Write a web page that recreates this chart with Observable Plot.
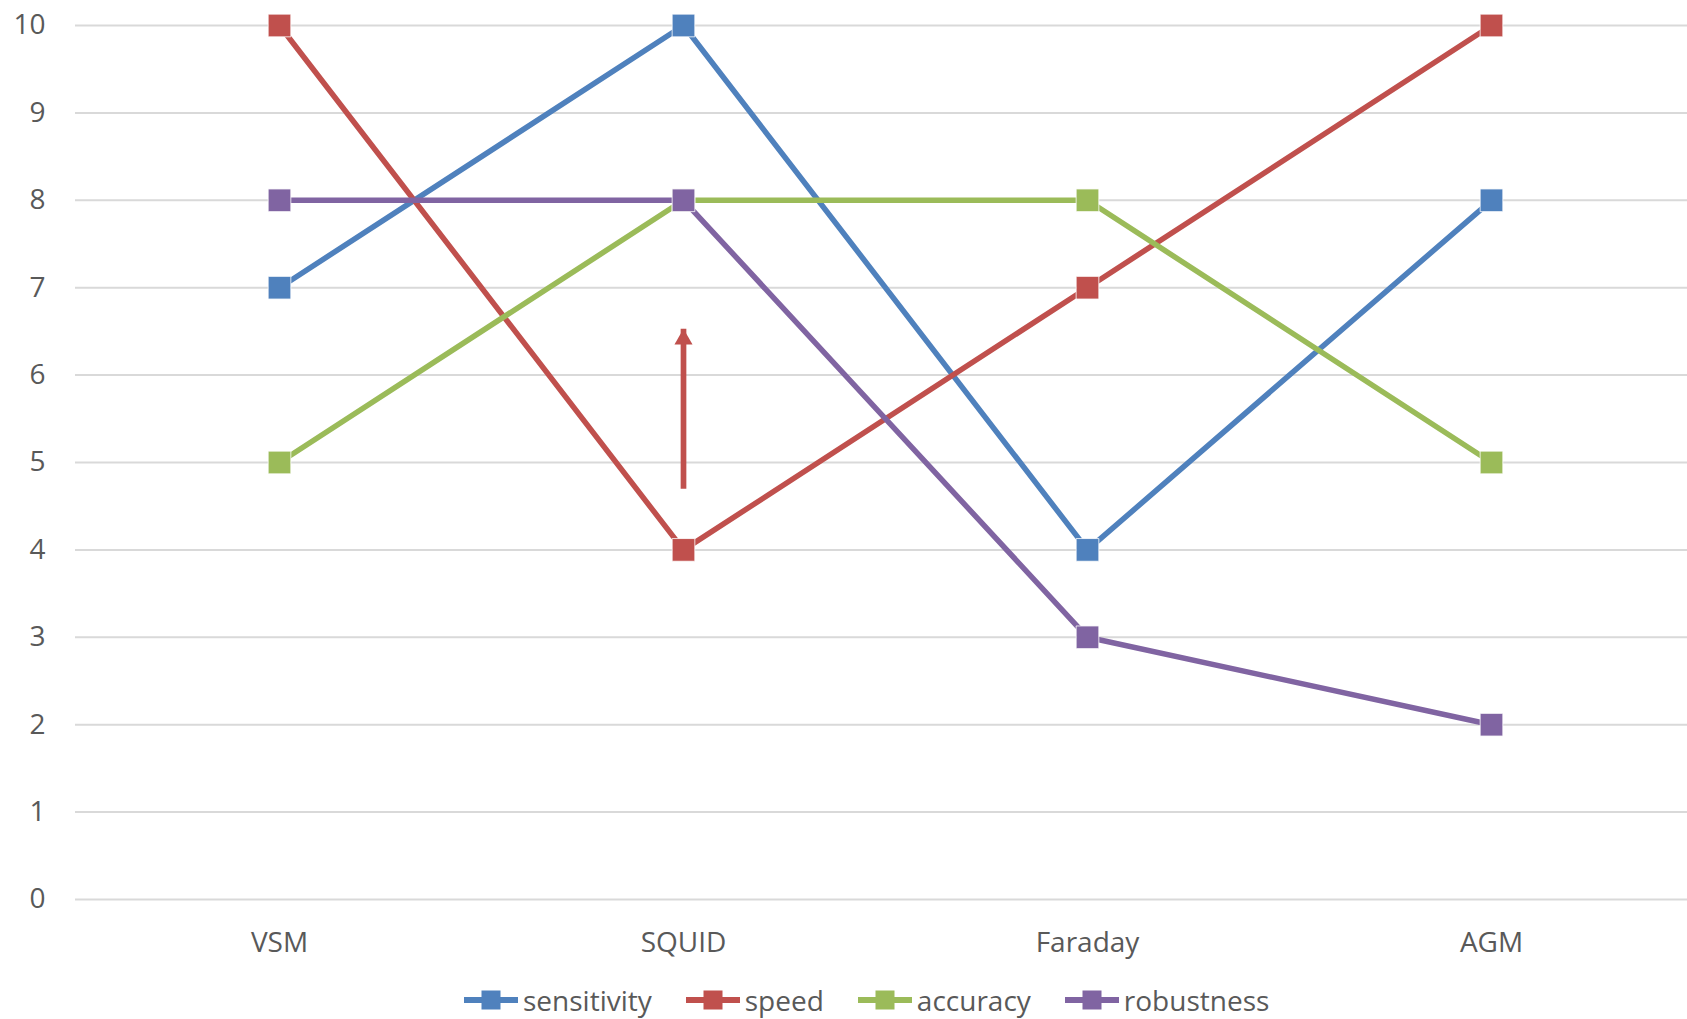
<!DOCTYPE html>
<html>
<head>
<meta charset="utf-8">
<script src="https://cdn.jsdelivr.net/npm/d3@7"></script>
<script src="https://cdn.jsdelivr.net/npm/@observablehq/plot@0.6"></script>
<style>
  html, body { margin: 0; padding: 0; background: #fff; }
  #wrap { position: relative; width: 1687px; height: 1019px; overflow: hidden; font-family: "Open Sans", sans-serif; }
  #legend { position: absolute; left: 464px; top: 981px; height: 38px; display: flex; align-items: center; color: #595959; font-size: 28px; }
  .item { display: flex; align-items: center; margin-right: 34px; }
  .item svg { margin-right: 5px; }
</style>
</head>
<body>
<div id="wrap">
  <div id="chart"></div>
  <div id="legend"></div>
</div>
<script>
// Magnetometry techniques and their scores
const categories = ["VSM", "SQUID", "Faraday", "AGM"];
const seriesNames = ["sensitivity", "speed", "accuracy", "robustness"];
const sensitivity = [7, 10, 4, 8];
const speed = [10, 4, 7, 10];
const accuracy = [5, 8, 8, 5];
const robustness = [8, 8, 3, 2];
const colors = ["#4F81BD", "#C0504D", "#9BBB59", "#8064A2"];
const yTicks = [0, 1, 2, 3, 4, 5, 6, 7, 8, 9, 10];
// annotation arrow above SQUID (from, to)
const arrowAnnotation = [{x: "SQUID", from: 4.7, to: 6.53}];

const seriesValues = [sensitivity, speed, accuracy, robustness];
const rows = seriesNames.flatMap((name, i) =>
  categories.map((c, j) => ({series: name, category: c, value: seriesValues[i][j]}))
);

const chart = Plot.plot({
  width: 1687,
  height: 970,
  marginLeft: 75,
  marginRight: 0,
  marginTop: 25,
  marginBottom: 71,
  style: {fontFamily: "Open Sans, sans-serif", color: "#595959", background: "transparent", overflow: "visible"},
  x: {type: "point", domain: categories, range: [75, 1694], padding: 0.5, label: null},
  y: {domain: [0, 10], label: null},
  color: {domain: seriesNames, range: colors},
  marks: [
    Plot.gridY(yTicks, {stroke: "#D9D9D9", strokeWidth: 2, strokeOpacity: 1}),
    Plot.axisY(yTicks, {tickSize: 0, tickPadding: 30, fontSize: 28, label: null, fill: "#595959", tickFormat: "d"}),
    Plot.axisX({tickSize: 0, tickPadding: 33, fontSize: 28, label: null, fill: "#595959"}),
    ...seriesNames.flatMap((name) => {
      const d = rows.filter((r) => r.series === name);
      return [
        Plot.line(d, {x: "category", y: "value", stroke: "series", strokeWidth: 5.5, strokeLinejoin: "round"}),
        Plot.dot(d, {x: "category", y: "value", symbol: "square", r: 12.8, fill: "series", stroke: "white", strokeWidth: 0.8})
      ];
    }),
    Plot.link(arrowAnnotation, {x1: "x", x2: "x", y1: "from", y2: "to", stroke: colors[1], strokeWidth: 5.7, insetEnd: 12}),
    Plot.dot(arrowAnnotation, {x: "x", y: "to", symbol: "triangle", r: 6.7, fill: colors[1], dy: 10.4})
  ]
});
document.getElementById("chart").appendChild(chart);

// legend
const legend = d3.select("#legend");
seriesNames.forEach((name, i) => {
  const item = legend.append("div").attr("class", "item");
  const sw = item.append("svg").attr("width", 54).attr("height", 22);
  sw.append("line").attr("x1", 0).attr("x2", 54).attr("y1", 11).attr("y2", 11)
    .attr("stroke", colors[i]).attr("stroke-width", 6).attr("stroke-linecap", "round");
  sw.append("rect").attr("x", 17.5).attr("y", 1.5).attr("width", 19).attr("height", 19).attr("fill", colors[i]);
  item.append("span").text(name);
});
</script>
</body>
</html>
